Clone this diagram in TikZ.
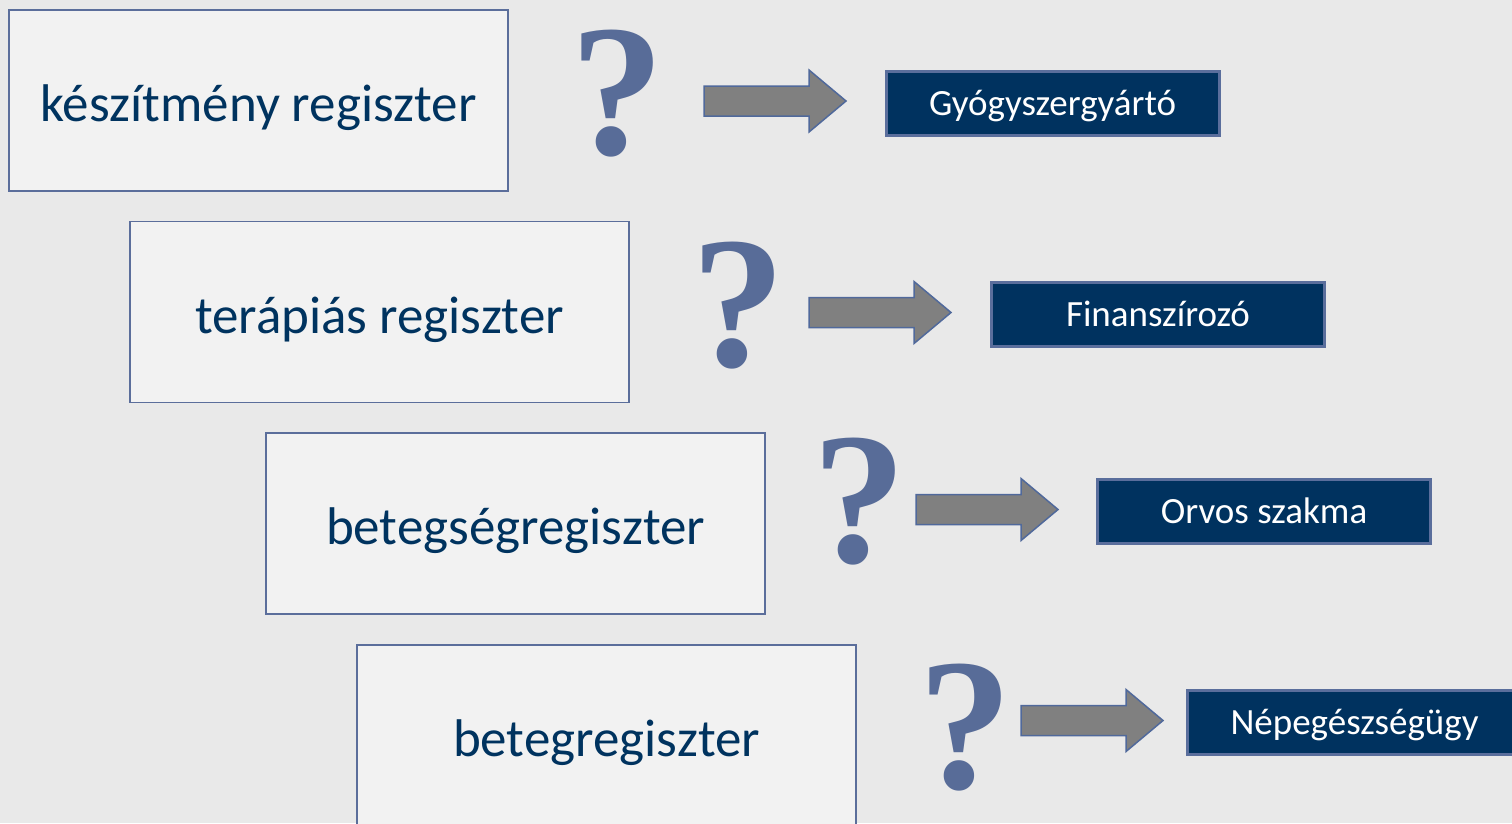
\documentclass[tikz,border=0pt]{standalone}
\usepackage{fontspec}
\setmainfont{Carlito}
\newfontfamily\qfont{Liberation Serif}
\usepackage{tikz}
\definecolor{bggray}{HTML}{E9E9E9}
\definecolor{regfill}{HTML}{F2F2F2}
\definecolor{regline}{HTML}{5B6E9B}
\definecolor{regtext}{HTML}{00335F}
\definecolor{navy}{HTML}{00325F}
\definecolor{navyline}{HTML}{5A6E9C}
\definecolor{qblue}{HTML}{586C98}
\definecolor{arrgray}{HTML}{808080}
\definecolor{arrline}{HTML}{50699B}
% block arrow: left end x, middle y
\newcommand{\RegArrow}[2]{%
  \draw[arrgray fill] (#1,#2-15)--(#1+105,#2-15)--(#1+105,#2-31)--(#1+142,#2)
    --(#1+105,#2+31)--(#1+105,#2+15)--(#1,#2+15)--cycle;}

\begin{document}
\begin{tikzpicture}[x=1pt,y=-1pt,
  regbox/.style={draw=regline,line width=1.5pt,fill=regfill,text=regtext,
    minimum width=499,minimum height=181,inner sep=0,
    text height=42pt,text depth=0pt,
    font=\fontsize{53}{60}\selectfont},
  userbox/.style={draw=navyline,line width=3pt,fill=navy,text=white,
    minimum width=333,minimum height=64,inner sep=0,
    text height=24pt,text depth=0pt,
    font=\fontsize{37}{44}\selectfont},
  qmark/.style={text=qblue,inner sep=0,anchor=base,
    font=\qfont\bfseries\fontsize{188}{200}\selectfont},
  arrgray fill/.style={fill=arrgray,draw=arrline,line width=1.5pt}]
  \useasboundingbox (0,0) rectangle (1512,823);
  \fill[bggray] (0,0) rectangle (1512,823);
  % registers
  \node[regbox] (reg1) at (258.5,100.5) {készítmény regiszter};
  \node[regbox] (reg2) at (379.5,312) {terápiás regiszter};
  \node[regbox] (reg3) at (515.5,523.5) {betegségregiszter};
  \node[regbox] (reg4) at (606.5,735.5) {betegregiszter};
  % question marks
  \node[qmark] (q1) at (617,154) {?};
  \node[qmark] (q2) at (738,366) {?};
  \node[qmark] (q3) at (859,562) {?};
  \node[qmark] (q4) at (965,788) {?};
  % arrows
  \RegArrow{704}{101}
  \RegArrow{809}{312.5}
  \RegArrow{916}{509.5}
  \RegArrow{1021}{720.5}
  % users
  \node[userbox] (u1) at (1052.5,103) {Gyógyszergyártó};
  \node[userbox] (u2) at (1158,314.5) {Finanszírozó};
  \node[userbox] (u3) at (1264,511.5) {Orvos szakma};
  \node[userbox, minimum width=335] (u4) at (1354.5,722) {Népegészségügy};
\end{tikzpicture}
\end{document}
